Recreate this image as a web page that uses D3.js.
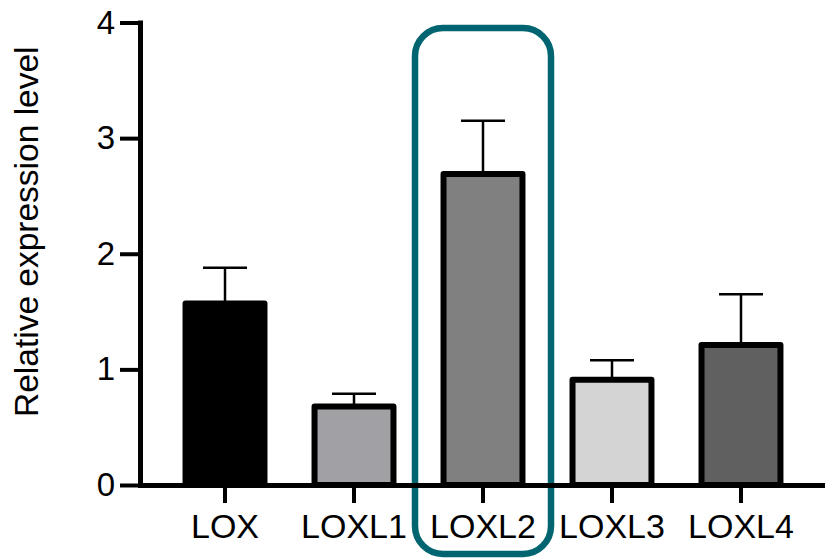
<!DOCTYPE html>
<head>
    <meta charset="utf-8">
    <script src="https://d3js.org/d3.v7.min.js"></script>
    <style>
        body { margin: 0; }
        text { font-family: "Liberation Sans", Arial, Helvetica, sans-serif; }
    </style>
</head>
<body>
    <script>
        // data
        const genes = ["LOX", "LOXL1", "LOXL2", "LOXL3", "LOXL4"]
        const means = [1.57, 0.68, 2.69, 0.91, 1.21]
        const errors = [0.31, 0.11, 0.46, 0.17, 0.44]
        const fills = ["#000000", "#a1a0a5", "#808080", "#d4d4d4", "#606060"]
        const yTicks = [0, 1, 2, 3, 4]
        const highlighted = "LOXL2"

        let width = 825,
            height = 559

        let svg = d3.select("body")
            .append("svg")
            .attr("width", width)
            .attr("height", height)

        // scales
        const x_scale = d3.scaleBand()
            .domain(genes)
            .range([140, 826])
            .paddingInner(0.388)
            .paddingOuter(0.353)

        const y_scale = d3.scaleLinear()
            .domain([0, 4])
            .range([485, 22.5])

        // highlight box around LOXL2
        const hx = x_scale(highlighted) + x_scale.bandwidth() / 2
        svg.append("rect")
            .attr("x", hx - 68)
            .attr("y", y_scale(4) + 5.5)
            .attr("width", 136)
            .attr("height", height - 5 - (y_scale(4) + 5.5))
            .attr("rx", 28)
            .attr("fill", "none")
            .attr("stroke", "#006571")
            .attr("stroke-width", 6.5)

        // error bars (drawn first so bar outline sits on top)
        let err_group = svg.append("g").attr("class", "errors")
        genes.forEach((g, i) => {
            const cx = x_scale(g) + x_scale.bandwidth() / 2
            err_group.append("line")
                .attr("x1", cx).attr("x2", cx)
                .attr("y1", y_scale(means[i]))
                .attr("y2", y_scale(means[i] + errors[i]))
                .attr("stroke", "#000").attr("stroke-width", 2.5)
            err_group.append("line")
                .attr("x1", cx - 22).attr("x2", cx + 22)
                .attr("y1", y_scale(means[i] + errors[i]))
                .attr("y2", y_scale(means[i] + errors[i]))
                .attr("stroke", "#000").attr("stroke-width", 2.5)
        })

        // bars
        svg.append("g").attr("class", "bars")
            .selectAll("rect")
            .data(genes)
            .enter().append("rect")
            .attr("x", d => x_scale(d))
            .attr("y", (d, i) => y_scale(means[i]))
            .attr("width", x_scale.bandwidth())
            .attr("height", (d, i) => y_scale(0) - y_scale(means[i]))
            .attr("fill", (d, i) => fills[i])
            .attr("stroke", "#000")
            .attr("stroke-width", 6)
            .attr("stroke-linejoin", "round")

        // axes
        let xAxis = svg.append("g")
            .attr("transform", `translate(0,${y_scale(0)})`)
            .call(d3.axisBottom(x_scale).tickSize(18).tickSizeOuter(0).tickPadding(11))
        xAxis.select(".domain").attr("stroke-width", 5)
        xAxis.selectAll(".tick line").attr("stroke-width", 4)
        xAxis.selectAll("text")
            .attr("font-size", 34)
            .attr("font-family", "'Liberation Sans', Arial, Helvetica, sans-serif")
            .attr("fill", "#000")

        let yAxis = svg.append("g")
            .attr("transform", "translate(140,0)")
            .call(d3.axisLeft(y_scale).tickValues(yTicks).tickFormat(d3.format("d"))
                .tickSize(20).tickSizeOuter(0).tickPadding(5))
        yAxis.select(".domain").attr("stroke-width", 5).attr("stroke-linecap", "square")
        yAxis.selectAll(".tick line").attr("stroke-width", 4)
        yAxis.selectAll("text")
            .attr("font-size", 33)
            .attr("font-family", "'Liberation Sans', Arial, Helvetica, sans-serif")
            .attr("fill", "#000")

        // y title
        svg.append("text")
            .attr("transform", `translate(38,${(y_scale(0) + y_scale(4)) / 2 - 22}) rotate(-90)`)
            .attr("text-anchor", "middle")
            .attr("font-size", 33.5)
            .attr("fill", "#000")
            .text("Relative expression level")
    </script>
</body>
